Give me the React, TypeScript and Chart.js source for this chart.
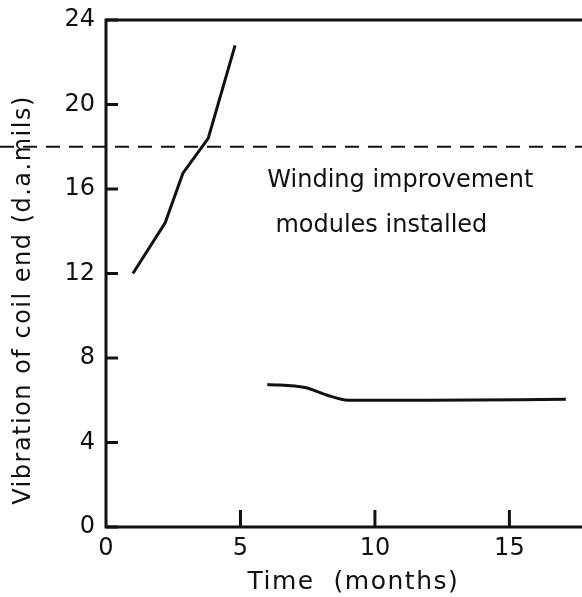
import React, { useEffect, useRef } from "react";
import { Chart, registerables } from "chart.js";

Chart.register(...registerables);

// Coil-end vibration before the winding modules were fitted (months, d.a. mils)
const beforeMonths = [1.0, 2.2, 2.86, 3.8, 4.8];
const beforeVibration = [12.0, 14.4, 16.75, 18.4, 22.8];

// Coil-end vibration after the winding improvement modules were installed
const afterMonths = [6.0, 7.4, 8.2, 9.0, 12.0, 17.1];
const afterVibration = [6.75, 6.6, 6.25, 6.0, 6.0, 6.05];

// Alarm / limit level shown as a dashed line
const limitLevel = 18;

const xTickValues = [0, 5, 10, 15];
const yTickValues = [0, 4, 8, 12, 16, 20, 24];

const noteLines = ["Winding improvement", "modules installed"];
const xTitle = "Time  (months)";
const yTitle = "Vibration of coil end (d.a.mils)";

const FONT = "'DejaVu Sans', sans-serif";
const INK = "#111";

const toPoints = (xs: number[], ys: number[]) => xs.map((x, i) => ({ x, y: ys[i] }));

// Frame, inward ticks, dashed limit line, note text and axis titles
const decorations = {
  id: "decorations",
  afterDraw(chart: any) {
    const { ctx, chartArea, scales, width } = chart;
    const xs = scales.x;
    const ys = scales.y;
    ctx.save();
    ctx.strokeStyle = INK;
    ctx.lineCap = "butt";

    // axes: left, bottom and top edges
    ctx.lineWidth = 3;
    ctx.beginPath();
    ctx.moveTo(width, chartArea.top);
    ctx.lineTo(chartArea.left, chartArea.top);
    ctx.lineTo(chartArea.left, chartArea.bottom);
    ctx.lineTo(width, chartArea.bottom);
    ctx.stroke();

    // inward tick marks
    ctx.lineWidth = 3;
    for (const v of yTickValues) {
      const py = ys.getPixelForValue(v);
      ctx.beginPath();
      ctx.moveTo(chartArea.left, py);
      ctx.lineTo(chartArea.left + 12, py);
      ctx.stroke();
    }
    for (const v of xTickValues) {
      if (v === 0) continue;
      const px = xs.getPixelForValue(v);
      ctx.beginPath();
      ctx.moveTo(px, chartArea.bottom);
      ctx.lineTo(px, chartArea.bottom - 17);
      ctx.stroke();
    }

    // dashed limit line across the whole figure
    const ly = ys.getPixelForValue(limitLevel);
    ctx.lineWidth = 2;
    ctx.setLineDash([14, 9]);
    ctx.beginPath();
    ctx.moveTo(0, ly);
    ctx.lineTo(width, ly);
    ctx.stroke();
    ctx.setLineDash([]);

    // note
    ctx.fillStyle = INK;
    ctx.font = `24px ${FONT}`;
    ctx.textBaseline = "middle";
    ctx.textAlign = "left";
    ctx.fillText(noteLines[0], xs.getPixelForValue(6.0), ys.getPixelForValue(16.4));
    ctx.fillText(noteLines[1], xs.getPixelForValue(6.3), ys.getPixelForValue(14.25));

    // x axis title
    ctx.font = `25px ${FONT}`;
    ctx.letterSpacing = "1.5px";
    ctx.textAlign = "center";
    ctx.fillText(xTitle, (xs.getPixelForValue(9) + xs.getPixelForValue(9.4)) / 2, 582);

    // y axis title
    ctx.font = `24px ${FONT}`;
    ctx.letterSpacing = "1.5px";
    ctx.translate(24, 300);
    ctx.rotate(-Math.PI / 2);
    ctx.fillText(yTitle, 0, 0);
    ctx.restore();
  },
};

export default function App() {
  const canvasRef = useRef<HTMLCanvasElement | null>(null);

  useEffect(() => {
    document.body.style.margin = "0";
    const canvas = canvasRef.current;
    if (!canvas) return;
    const chart = new Chart(canvas, {
      type: "line",
      data: {
        datasets: [
          {
            data: toPoints(beforeMonths, beforeVibration),
            borderColor: INK,
            borderWidth: 3,
            pointRadius: 0,
            tension: 0,
            fill: false,
          },
          {
            data: toPoints(afterMonths, afterVibration),
            borderColor: INK,
            borderWidth: 3,
            pointRadius: 0,
            cubicInterpolationMode: "monotone",
            fill: false,
          },
        ],
      },
      options: {
        responsive: false,
        animation: false,
        layout: { padding: { top: 20, right: 0, left: 0, bottom: 0 } },
        plugins: {
          legend: { display: false },
          tooltip: { enabled: false },
        },
        scales: {
          x: {
            type: "linear",
            min: 0,
            max: 17.7,
            border: { display: false },
            grid: { display: false, drawTicks: false },
            ticks: {
              stepSize: 5,
              includeBounds: false,
              padding: 7,
              color: INK,
              font: { family: FONT, size: 24 },
            },
            afterFit: (scale: any) => {
              scale.height = 70;
              scale.paddingLeft = 0;
              scale.paddingRight = 0;
            },
          },
          y: {
            type: "linear",
            min: 0,
            max: 24,
            border: { display: false },
            grid: { display: false, drawTicks: false },
            ticks: {
              stepSize: 4,
              padding: 11,
              color: INK,
              font: { family: FONT, size: 24 },
            },
            afterFit: (scale: any) => {
              scale.width = 106;
              scale.paddingTop = 0;
              scale.paddingBottom = 0;
            },
          },
        },
      },
      plugins: [decorations],
    });
    return () => chart.destroy();
  }, []);

  return (
    <div style={{ position: "absolute", left: 0, top: 0, width: 582, height: 597, background: "#fff" }}>
      <canvas ref={canvasRef} width={582} height={597} />
    </div>
  );
}
